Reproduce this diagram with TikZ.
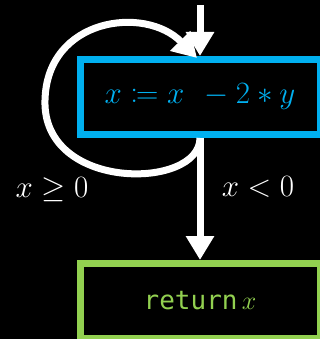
\RequirePackage{fix-cm}
\documentclass[tikz,border=0pt]{standalone}
\usepackage{mathtools}
\usepackage{fontspec}
\newfontfamily\codefont{DejaVu Sans Mono}
\usetikzlibrary{arrows.meta,positioning}
\definecolor{stmtblue}{HTML}{00B0F0}
\definecolor{retgreen}{HTML}{92D050}
\tikzset{
  cfgbox/.style={draw, line width=7pt, minimum width=240pt, minimum height=75pt, inner sep=0pt},
  stmtbox/.style={cfgbox, draw=stmtblue, text=stmtblue, font=\fontsize{31}{36}\selectfont},
  retbox/.style={cfgbox, draw=retgreen, text=retgreen, font=\fontsize{26}{30}\selectfont\codefont},
  condlabel/.style={text=white, font=\fontsize{31}{36}\selectfont},
  flowarrow/.style={-{Triangle[length=24pt,width=27pt]}, white, line width=7pt}
}

\begin{document}
\begin{tikzpicture}[x=1pt, y=-1pt, node distance=122pt]
  \fill[black] (0,0) rectangle (320,339);
  \useasboundingbox (0,0) rectangle (320,339);

  \node[stmtbox] (stmt) at (200,97) {$x \coloneqq x\;\, - 2 \ast y$};
  \node[retbox, below=of stmt] (ret) {return\,$x$};
  \coordinate (entry) at (200,5);
  \node[condlabel] (ge) at (52,190) {$x \geq 0$};
  \node[condlabel] (lt) at (258,187) {$x < 0$};

  \draw[flowarrow] (entry) -- (stmt.north);
  \draw[flowarrow] (stmt.south) -- (ret.north);
  \draw[flowarrow] (stmt.south) .. controls +(0,52) and (42,192) .. (45,100)
    .. controls (47,18) and (145,5) .. ([xshift=-3pt, yshift=-2pt]stmt.north);
\end{tikzpicture}
\end{document}
